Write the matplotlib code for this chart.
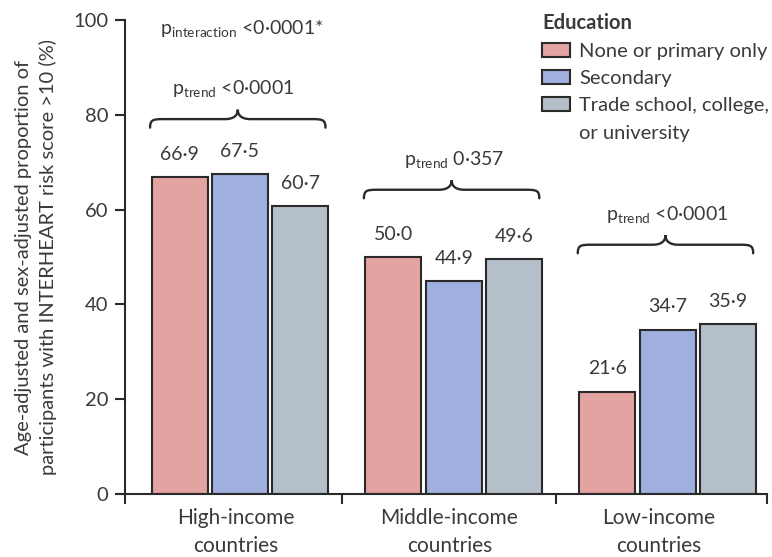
import matplotlib
matplotlib.use('Agg')
import matplotlib.pyplot as plt
from matplotlib.path import Path
from matplotlib.patches import PathPatch, Patch
import numpy as np

plt.rcParams['font.family'] = ['Lato', 'DejaVu Sans']
plt.rcParams['mathtext.fontset'] = 'custom'
plt.rcParams['mathtext.rm'] = 'Lato'

groups = ['High-income\ncountries', 'Middle-income\ncountries', 'Low-income\ncountries']
levels = ['None or primary only', 'Secondary', 'Trade school, college,\nor university']
none_primary = [66.9, 50.0, 21.6]
secondary = [67.5, 44.9, 34.7]
tertiary = [60.7, 49.6, 35.9]
trend_p = ['<0·0001', '0·357', '<0·0001']
colors = ['#e3a3a1', '#9fb0df', '#b5bfc9']
txt = '#3a3a3a'
edge = '#2a2a2a'

def draw_brace(ax, xc, half, ybase, h=1.8, peak=2.0, dx=0.06):
    # curly brace opening downwards, pointed peak in the middle
    x0, x1 = xc - half, xc + half
    yl = ybase + h
    verts = [(x0, ybase),
             (x0, yl - 0.2), (x0 + dx * 0.2, yl), (x0 + dx, yl),
             (xc - dx, yl),
             (xc - dx * 0.3, yl), (xc, yl + peak * 0.4), (xc, yl + peak),
             (xc, yl + peak * 0.4), (xc + dx * 0.3, yl), (xc + dx, yl),
             (x1 - dx, yl),
             (x1 - dx * 0.2, yl), (x1, yl - 0.2), (x1, ybase)]
    codes = [Path.MOVETO,
             Path.CURVE4, Path.CURVE4, Path.CURVE4,
             Path.LINETO,
             Path.CURVE4, Path.CURVE4, Path.CURVE4,
             Path.CURVE4, Path.CURVE4, Path.CURVE4,
             Path.LINETO,
             Path.CURVE4, Path.CURVE4, Path.CURVE4]
    ax.add_patch(PathPatch(Path(verts, codes), fill=False, lw=1.7,
                           edgecolor=edge, capstyle='round'))

fig = plt.figure(figsize=(7.72, 5.57), dpi=100)
ax = fig.add_axes([0.162, 0.113, 0.8316, 0.851])

x = np.arange(len(groups))
w = 0.262
step = 0.282
offs = [-step, 0.0, step]
series = [none_primary, secondary, tertiary]
for s, off, c, lab in zip(series, offs, colors, levels):
    ax.bar(x + off, s, w, color=c, edgecolor=edge, linewidth=1.5, label=lab)
    for xi, v in zip(x + off, s):
        ax.text(xi, v + 4.8, f'{v:.1f}'.replace('.', '·'), ha='center', va='center',
                fontsize=14, color=txt)

brace_base = [77.3, 62.4, 50.8]
for xi, yb, p in zip(x, brace_base, trend_p):
    draw_brace(ax, xi - 0.01, 0.41, yb)
    ax.text(xi - 0.03 if xi == 0 else xi, yb + 8.0, r'p$_{\mathrm{trend}}$ ' + p,
            ha='center', va='center', fontsize=14, color=txt)

ax.text(0.01, 98.0, r'p$_{\mathrm{interaction}}$ <0·0001*', ha='center', va='center',
        fontsize=14, color=txt)

ax.set_xlim(-0.537, 2.465)
ax.set_ylim(0, 100)
ax.set_yticks(range(0, 101, 20))
ax.set_xticks([-0.537, 0.477, 1.477, 2.465])
ax.set_xticklabels([])
ax.set_xticks([-0.02, 0.98, 1.96], minor=True)
ax.set_xticklabels(groups, minor=True, fontsize=15, color=txt, linespacing=1.5)
ax.tick_params(axis='x', which='minor', length=0, pad=10)
ax.tick_params(axis='x', which='major', length=7, width=1.5, color=edge)
ax.tick_params(axis='y', length=7, width=1.5, color=edge, labelsize=14.5,
               labelcolor=txt, pad=5)
for sp in ['top', 'right']:
    ax.spines[sp].set_visible(False)
for sp in ['left', 'bottom']:
    ax.spines[sp].set_linewidth(1.5)
    ax.spines[sp].set_color(edge)

ax.set_ylabel('Age-adjusted and sex-adjusted proportion of\nparticipants with INTERHEART risk score >10 (%)',
              fontsize=14.5, color=txt, labelpad=12, linespacing=1.45)

# legend: the wrapped third label gets its own row with an empty handle
leg_labels = levels[:2] + levels[2].split('\n')
handles = [Patch(facecolor=c, edgecolor=edge, linewidth=1.5) for c in colors]
handles.append(Patch(facecolor='none', edgecolor='none'))
leg = ax.legend(handles, leg_labels, title='Education', loc='upper left',
                bbox_to_anchor=(0.637, 1.032), frameon=False, fontsize=14.5,
                handlelength=1.4, handleheight=0.7, handletextpad=0.45,
                labelspacing=0.5, borderaxespad=0)
leg.get_title().set_fontweight('bold')
leg.get_title().set_fontsize(14.5)
leg.get_title().set_color(txt)
leg._legend_box.align = 'left'
for t in leg.get_texts():
    t.set_color(txt)

fig.savefig('out.png', dpi=100)
